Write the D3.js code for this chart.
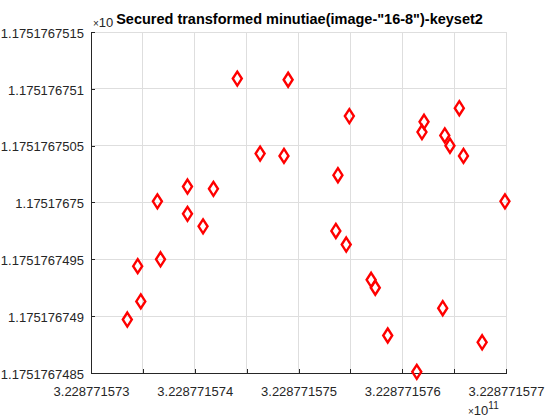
<!DOCTYPE html>
<html>
<head>
<meta charset="utf-8">
<script src="https://cdn.jsdelivr.net/npm/d3@7"></script>
<style>
    body { margin: 0; background: #fff; }
    svg { display: block; font-family: "Liberation Sans", Arial, sans-serif; }
</style>
</head>
<body>
<svg id="chart" width="560" height="420"></svg>
<script>
// x values in units of 1e11, y values in units of the hidden y exponent
const xs = [3.22877157335, 3.22877157345, 3.22877157348, 3.22877157364, 3.22877157367,
            3.22877157393, 3.22877157393, 3.22877157408, 3.22877157418, 3.22877157441,
            3.22877157463, 3.22877157486, 3.22877157490, 3.22877157536, 3.22877157538,
            3.22877157546, 3.22877157549, 3.22877157570, 3.22877157574, 3.22877157586,
            3.22877157614, 3.22877157619, 3.22877157621, 3.22877157639, 3.22877157641,
            3.22877157646, 3.22877157655, 3.22877157659, 3.22877157677, 3.22877157699];
const ys = [1.17517674897, 1.17517674944, 1.17517674913, 1.17517675001, 1.17517674950,
            1.17517674990, 1.17517675014, 1.17517674979, 1.17517675012, 1.17517675109,
            1.17517675043, 1.17517675041, 1.17517675108, 1.17517674975, 1.17517675024,
            1.17517674963, 1.17517675076, 1.17517674932, 1.17517674925, 1.17517674883,
            1.17517674851, 1.17517675062, 1.17517675071, 1.17517674907, 1.17517675059,
            1.17517675050, 1.17517675083, 1.17517675041, 1.17517674877, 1.17517675001];

const xTicks = [3.228771573, 3.2287715735, 3.228771574, 3.2287715745, 3.228771575,
                3.2287715755, 3.228771576, 3.2287715765, 3.228771577];
const xTickLabels = ['3.228771573', '', '3.228771574', '', '3.228771575',
                     '', '3.228771576', '', '3.228771577'];
const yTicks = [1.1751767485, 1.175176749, 1.1751767495, 1.17517675,
                1.1751767505, 1.175176751, 1.1751767515];
const yTickLabels = ['1.1751767485', '1.175176749', '1.1751767495', '1.17517675',
                     '1.1751767505', '1.175176751', '1.1751767515'];

const title = 'Secured transformed minutiae(image-"16-8")-keyset2';

const svg = d3.select('#chart');
const m = { left: 91, right: 506, top: 32, bottom: 373 };

const x = d3.scaleLinear().domain([xTicks[0], xTicks[xTicks.length - 1]]).range([m.left, m.right]);
const y = d3.scaleLinear().domain([yTicks[0], yTicks[yTicks.length - 1]]).range([m.bottom, m.top]);

const axisColor = '#262626';
const gridColor = '#dedede';

// grid
svg.append('g').selectAll('line').data(xTicks).join('line')
    .attr('x1', d => x(d)).attr('x2', d => x(d))
    .attr('y1', m.top).attr('y2', m.bottom)
    .attr('stroke', gridColor).attr('stroke-width', 1)
    .attr('shape-rendering', 'crispEdges');
svg.append('g').selectAll('line').data(yTicks).join('line')
    .attr('x1', m.left).attr('x2', m.right)
    .attr('y1', d => y(d)).attr('y2', d => y(d))
    .attr('stroke', gridColor).attr('stroke-width', 1)
    .attr('shape-rendering', 'crispEdges');

// axes
const xAxis = d3.axisBottom(x).tickValues(xTicks).tickSizeInner(-4).tickSizeOuter(0)
    .tickPadding(14).tickFormat((d, i) => xTickLabels[i]);
const yAxis = d3.axisLeft(y).tickValues(yTicks).tickSizeInner(-4).tickSizeOuter(0)
    .tickPadding(7).tickFormat((d, i) => yTickLabels[i]);

const gx = svg.append('g').attr('transform', `translate(0,${m.bottom})`).call(xAxis);
const gy = svg.append('g').attr('transform', `translate(${m.left},0)`).call(yAxis);

[gx, gy].forEach(g => {
    g.select('.domain').attr('stroke', axisColor).attr('shape-rendering', 'crispEdges');
    g.selectAll('.tick line').attr('stroke', axisColor).attr('shape-rendering', 'crispEdges');
    g.selectAll('.tick text').attr('fill', axisColor)
        .style('font-size', '13px').style('font-family', '"Liberation Sans", Arial, sans-serif');
});
gy.selectAll('.tick text').attr('dy', '0.4em');

// exponent labels (the top one sits under the title, as in MATLAB)
const bx = svg.append('text').attr('x', 468).attr('y', 415).attr('fill', axisColor);
bx.append('tspan').style('font-size', '10px').text('\u00d7');
bx.append('tspan').style('font-size', '13px').text('10');
bx.append('tspan').attr('dy', -6).style('font-size', '10px').text('11');

const tx = svg.append('text').attr('x', 93).attr('y', 27).attr('fill', axisColor);
tx.append('tspan').style('font-size', '10px').text('\u00d7');
tx.append('tspan').style('font-size', '13px').text('10');

// markers (MATLAB 'd' diamond)
const pts = xs.map((d, i) => ({ x: d, y: ys[i] }));
svg.append('g').selectAll('path').data(pts).join('path')
    .attr('transform', d => `translate(${x(d.x)},${y(d.y)})`)
    .attr('d', 'M0,-7L4.5,0L0,7L-4.5,0Z')
    .attr('fill', 'none')
    .attr('stroke', '#ff0000')
    .attr('stroke-width', 2.4);

// title
svg.append('text')
    .attr('x', (m.left + m.right) / 2 + 1).attr('y', 24)
    .attr('text-anchor', 'middle')
    .style('font-size', '14.5px').style('font-weight', 'bold')
    .attr('fill', '#000')
    .text(title);
</script>
</body>
</html>
